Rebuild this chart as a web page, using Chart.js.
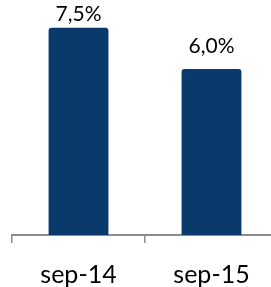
<!DOCTYPE html>
<html>
<head>
<meta charset="utf-8">
<script src="https://cdn.jsdelivr.net/npm/chart.js@4/dist/chart.umd.min.js"></script>
<style>
html,body{margin:0;padding:0;background:#fff;overflow:hidden;width:271px;height:287px;}
#wrap{width:278px;height:287px;}
</style>
</head>
<body>
<div id="wrap"><canvas id="c" width="278" height="287"></canvas></div>
<script>
const categories = ["sep-14", "sep-15"];
const values = [7.5, 6.0];
const valueLabels = values.map(v => v.toFixed(1).replace('.', ',') + '%');

const barColor = '#0a3a6c';
const axisColor = '#8c8c8c';

const labelPlugin = {
  id: 'valueLabels',
  afterDatasetsDraw(chart) {
    const ctx = chart.ctx;
    const meta = chart.getDatasetMeta(0);
    ctx.save();
    ctx.fillStyle = '#000';
    ctx.font = '21px Lato';
    ctx.textAlign = 'center';
    ctx.textBaseline = 'alphabetic';
    meta.data.forEach((bar, i) => {
      const y = Math.max(bar.y - 16, 21);
      ctx.fillText(valueLabels[i], bar.x, y);
    });
    ctx.restore();
  }
};

new Chart(document.getElementById('c'), {
  type: 'bar',
  data: {
    labels: categories,
    datasets: [{
      data: values,
      backgroundColor: barColor,
      borderRadius: 3,
      borderSkipped: 'bottom',
      categoryPercentage: 1,
      barPercentage: 0.45
    }]
  },
  options: {
    responsive: false,
    animation: false,
    layout: { padding: { left: 12, right: 0, top: 0, bottom: 0 } },
    plugins: { legend: { display: false }, tooltip: { enabled: false } },
    scales: {
      y: { display: false, min: 0, max: 8.5 },
      x: {
        afterFit(scale) { scale.height = 52; },
        border: { display: true, color: axisColor, width: 2 },
        grid: {
          display: true,
          offset: true,
          drawOnChartArea: false,
          drawTicks: true,
          tickLength: 8,
          color: axisColor,
          lineWidth: 1.5
        },
        ticks: {
          color: '#000',
          font: { family: 'Lato', size: 25 },
          padding: 17
        }
      }
    }
  },
  plugins: [labelPlugin]
});
</script>
</body>
</html>
